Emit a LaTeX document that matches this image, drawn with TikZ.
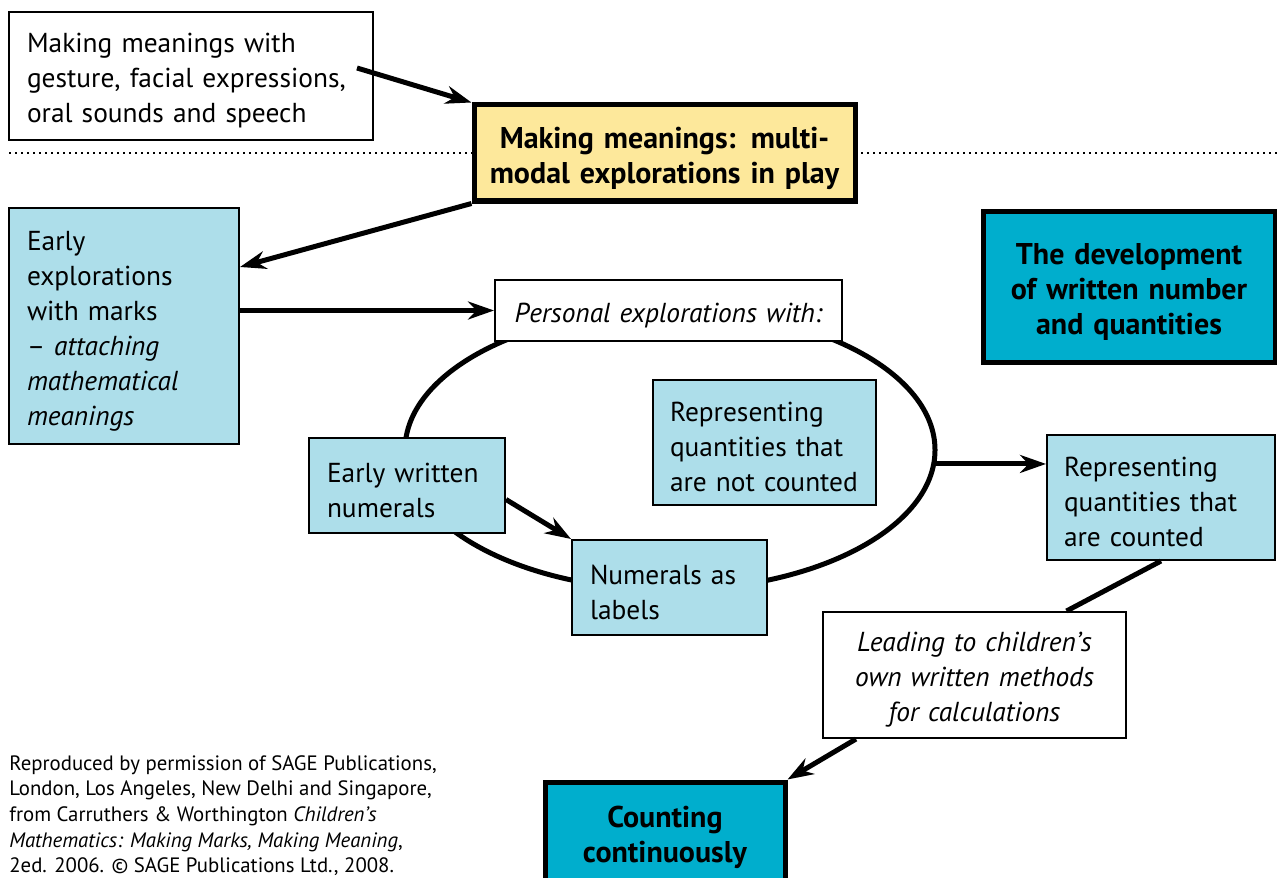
\documentclass[tikz,border=0pt]{standalone}
\usepackage{fontspec}
\setmainfont{PT Sans}
\usetikzlibrary{arrows.meta,positioning,calc,shapes.geometric}
\definecolor{paleblue}{RGB}{173,222,234}
\definecolor{deepteal}{RGB}{0,174,205}
\definecolor{playyellow}{RGB}{253,232,155}

\begin{document}
\begin{tikzpicture}[x=0.5pt,y=-0.5pt]
    \tikzstyle{every node}=[font=\fontsize{13.7}{17.5}\selectfont]
    \tikzstyle{box}=[draw,line width=1pt,inner xsep=9pt,inner ysep=0pt,text height=14.6pt]
    \tikzstyle{white box}=[box,fill=white]
    \tikzstyle{blue box}=[box,fill=paleblue,align=left]
    \tikzstyle{key box}=[draw,line width=2.5pt,inner sep=0pt,align=center,text height=15.6pt,font=\fontsize{15}{17.5}\selectfont\bfseries]
    \tikzstyle{link}=[line width=2.5pt,-{Stealth[length=13pt,width=9pt]}]
    \tikzstyle{plain link}=[line width=2.5pt]

\useasboundingbox (0,0) rectangle (1277,877);

% Ligne de separation
\draw[line width=1pt,dash pattern=on 1pt off 2pt] (9,153) -- (1277,153);

% Boucle
\node[draw,ellipse,line width=2.5pt,minimum width=265pt,minimum height=140pt,inner sep=0pt] (cycle) at (670,450) {};

% Haut
\node[white box,text width=164pt,minimum height=64pt,align=left] (gesture) at (191,76)
  {Making meanings with\\ gesture, facial expressions,\\ oral sounds and speech};
\node[key box,fill=playyellow,text width=186pt,minimum width=190.5pt,minimum height=48pt] (play) at (664.5,153)
  {Making meanings: multi-\\ modal explorations in play};
\node[key box,fill=deepteal,text width=140pt,minimum width=146pt,minimum height=75.5pt] (development) at (1129,286.5)
  {The development\\ of written number\\ and quantities};

% Gauche
\node[blue box,text width=97pt,minimum height=118pt] (early) at (124,326)
  {Early\\ explorations\\ with marks\\ -- \textit{attaching}\\ \textit{mathematical}\\ \textit{meanings}};
\node[white box,text width=155.5pt,minimum height=30.5pt,align=center,font=\fontsize{13.7}{17.5}\selectfont\itshape] (personal) at (668.5,310.5)
  {Personal explorations with:};

% Dans la boucle
\node[blue box,text width=80pt,minimum height=47.5pt] (written) at (407,485.5)
  {Early written\\ numerals};
\node[blue box,text width=94.5pt,inner xsep=8.5pt,minimum height=62.5pt] (uncounted) at (764.5,442.5)
  {Representing\\ quantities that\\ are not counted};
\node[blue box,text width=79.5pt,minimum height=47.5pt] (labels) at (669.5,587.5)
  {Numerals as\\ labels};

% Droite et bas
\node[blue box,text width=97pt,inner xsep=8.5pt,minimum height=62.5pt] (counted) at (1161,497.5)
  {Representing\\ quantities that\\ are counted};
\node[white box,text width=133.5pt,minimum height=63pt,align=center,font=\fontsize{13.7}{17.5}\selectfont\itshape] (leading) at (974.5,675)
  {Leading to children's\\ own written methods\\ for calculations};
\node[key box,fill=deepteal,text width=114pt,minimum width=120pt,minimum height=50.5pt] (counting) at (665,832.5)
  {Counting\\ continuously};

% Source
\node[anchor=north west,align=left,inner sep=0pt,font=\fontsize{10.4}{12.8}\selectfont] (credit) at (9,755)
  {Reproduced by permission of SAGE Publications,\\ London, Los Angeles, New Delhi and Singapore,\\ from Carruthers \& Worthington \textit{Children's}\\ \textit{Mathematics: Making Marks, Making Meaning},\\ 2ed. 2006. © SAGE Publications Ltd., 2008.};

% Fleches
\coordinate (g-tail) at (357,68);
\draw[link] (g-tail) -- (play.north west);
\draw[link] (play.south west) -- ([yshift=-30pt]early.north east);
\draw[link] (early.east |- personal.west) -- (personal.west);
\draw[link] ([yshift=-7pt]written.east) -- (labels.north west);
\draw[link] (cycle.-3.3) -- (cycle.-3.3 -| counted.west);
\draw[plain link] (counted.south) -- ([xshift=46pt]leading.north);
\draw[link] ([xshift=17pt]leading.south west) -- (counting.north east);

\end{tikzpicture}
\end{document}
